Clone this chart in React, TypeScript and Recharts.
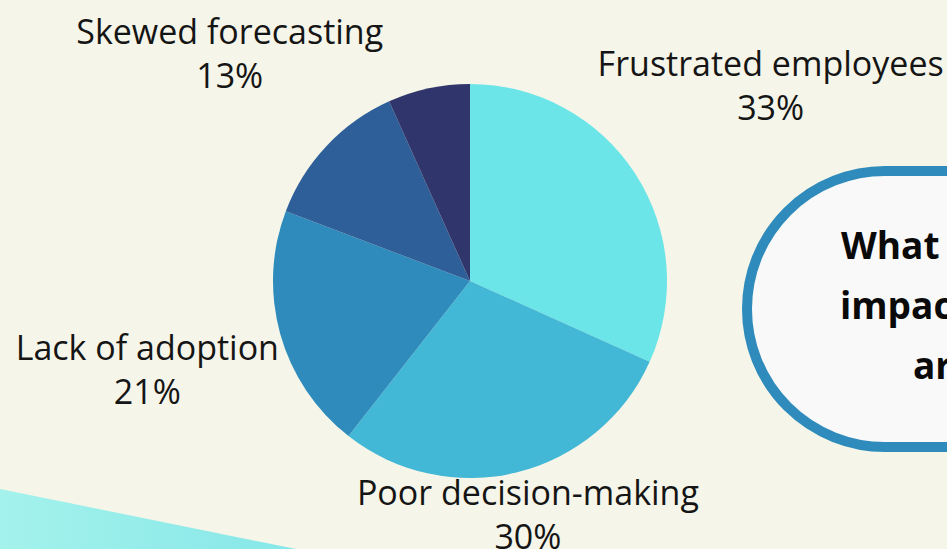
import { PieChart, Pie, Cell } from "recharts";

// slices run clockwise from 12 o'clock
const CATEGORIES = [
  "Frustrated employees",
  "Poor decision-making",
  "Lack of adoption",
  "Skewed forecasting",
  "Other",
];
const VALUES = [33, 30, 21, 13, 7];
const SHOW_LABEL = [true, true, true, true, false];
// the question bubble is cropped by the right edge of the picture
const BUBBLE_LINES = ["What", "impac", "ar"];

const COLORS = ["#6be5e8", "#43b7d6", "#2e8bbb", "#2e5f99", "#30356b"];
const LABEL_DIST = [358, 242, 335, 330]; // distance of label centre from pie centre
const RAD = Math.PI / 180;
const FONT = "'Open Sans', Lato, sans-serif";

const data = CATEGORIES.map((name, i) => ({ name, value: VALUES[i] }));

function renderLabel(props: any) {
  const { cx, cy, midAngle, index, name, value } = props;
  if (!SHOW_LABEL[index]) return null;
  const d = LABEL_DIST[index];
  const x = cx + d * Math.cos(-midAngle * RAD);
  const y = cy + d * Math.sin(-midAngle * RAD);
  return (
    <text x={x} y={y} textAnchor="middle" fill="#151515" fontFamily={FONT} fontSize={34}>
      <tspan x={x} y={y - 11}>
        {name}
      </tspan>
      <tspan x={x} y={y + 33}>
        {value}%
      </tspan>
    </text>
  );
}

export default function App() {
  return (
    <div
      style={{
        position: "fixed",
        left: 0,
        top: 0,
        width: 947,
        height: 549,
        overflow: "hidden",
        background: "#f5f6e9",
      }}
    >
      {/* cyan banner bottom-left */}
      <svg width={947} height={549} style={{ position: "absolute", left: 0, top: 0 }}>
        <defs>
          <linearGradient id="band" x1="0" x2="1" y1="0" y2="0">
            <stop offset="0%" stopColor="#a4f2ec" />
            <stop offset="100%" stopColor="#86e7e8" />
          </linearGradient>
        </defs>
        <polygon points="0,489 296,549 0,549" fill="url(#band)" />
      </svg>

      {/* question bubble on the right */}
      <div
        style={{
          position: "absolute",
          left: 742,
          top: 166,
          width: 420,
          height: 266,
          border: "10px solid #2e8bbb",
          borderRadius: 143,
          background: "#f9f9f9",
        }}
      />
      <div
        style={{
          position: "absolute",
          left: 0,
          top: 0,
          fontFamily: FONT,
          fontWeight: 700,
          fontSize: 37,
          color: "#0a0a0a",
          whiteSpace: "nowrap",
          lineHeight: "44px",
        }}
      >
        <div style={{ position: "absolute", left: 841, top: 223 }}>{BUBBLE_LINES[0]}</div>
        <div style={{ position: "absolute", left: 840, top: 283 }}>{BUBBLE_LINES[1]}</div>
        <div style={{ position: "absolute", left: 913, top: 343 }}>{BUBBLE_LINES[2]}</div>
      </div>

      <div style={{ position: "absolute", left: 0, top: 0 }}>
        <PieChart width={947} height={549} margin={{ top: 0, right: 0, bottom: 0, left: 0 }}>
          <Pie
            data={data}
            dataKey="value"
            nameKey="name"
            cx={470}
            cy={281}
            outerRadius={197}
            startAngle={90}
            endAngle={-270}
            stroke="none"
            label={renderLabel}
            labelLine={false}
            isAnimationActive={false}
          >
            {data.map((_, i) => (
              <Cell key={i} fill={COLORS[i]} />
            ))}
          </Pie>
        </PieChart>
      </div>
    </div>
  );
}
